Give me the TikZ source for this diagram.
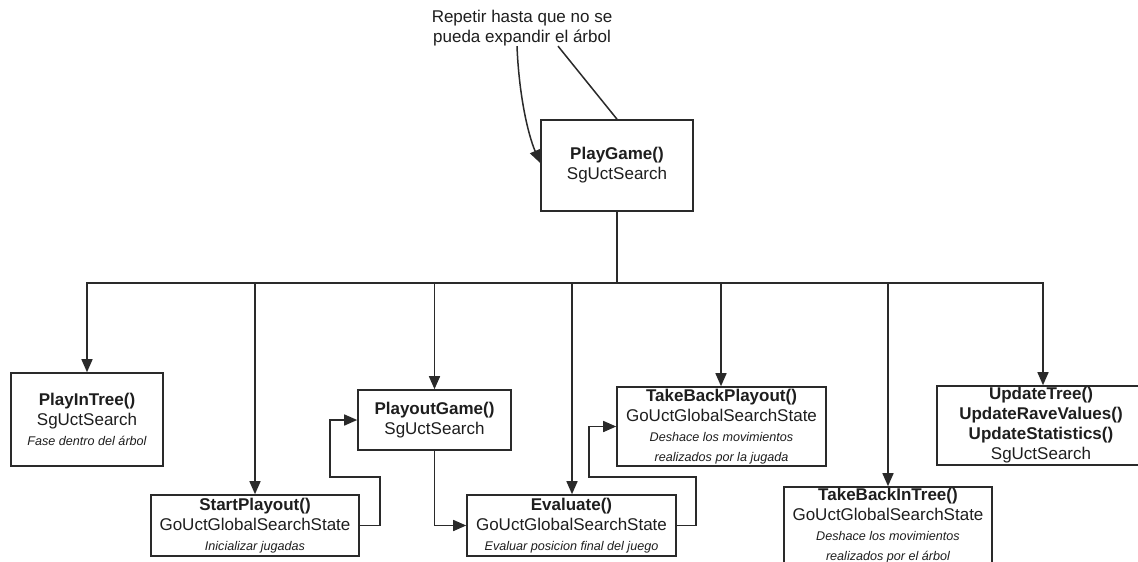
\documentclass[tikz,border=0pt]{standalone}
\usepackage{fontspec}
\setmainfont{Liberation Sans}
\usetikzlibrary{arrows.meta}

\definecolor{ink}{HTML}{1E1E1E}
\definecolor{wire}{HTML}{2A2A2A}

\newcommand{\fname}[1]{{\bfseries #1}}
\newcommand{\fnote}[1]{{\fontsize{12.6}{20}\selectfont\itshape #1}}

\begin{document}
\begin{tikzpicture}[x=1pt,y=-1pt,
  font=\fontsize{17}{20}\selectfont,
  box/.style={draw=wire, line width=1.6pt, rectangle, inner sep=0pt,
    align=center, text=ink, fill=white},
  link/.style={draw=wire, line width=1.5pt},
  arr/.style={link, -{Triangle[length=13pt,width=11pt]}},
  trunk/.style={draw=wire, line width=2.3pt}]

  \useasboundingbox[fill=white] (0,0) rectangle (1138,562);

  % main loop and its note
  \node[box, minimum width=152pt, minimum height=91pt] (play) at (617,165.5)
    {\fname{PlayGame()}\\SgUctSearch};
  \node[align=center, text=ink, inner sep=0pt] (note) at (522,28)
    {Repetir hasta que no se\\pueda expandir el árbol};

  % called functions
  \node[box, minimum width=152pt, minimum height=93pt] (intree) at (87,419.5)
    {\fname{PlayInTree()}\\SgUctSearch\\\fnote{Fase dentro del árbol}};
  \node[box, minimum width=208pt, minimum height=61pt] (start) at (255,525.5)
    {\fname{StartPlayout()}\\GoUctGlobalSearchState\\\fnote{Inicializar jugadas}};
  \node[box, minimum width=153pt, minimum height=60pt] (playout) at (434.5,420)
    {\fname{PlayoutGame()}\\SgUctSearch};
  \node[box, minimum width=209pt, minimum height=61pt] (eval) at (571.5,525.5)
    {\fname{Evaluate()}\\GoUctGlobalSearchState\\\fnote{Evaluar posicion final del juego}};
  \node[box, minimum width=209pt, minimum height=79pt] (tbplay) at (721.5,426.5)
    {\fname{TakeBackPlayout()}\\GoUctGlobalSearchState\\\fnote{Deshace los movimientos}\\\fnote{realizados por la jugada}};
  \node[box, minimum width=208pt, minimum height=77pt] (tbtree) at (888,525.5)
    {\fname{TakeBackInTree()}\\GoUctGlobalSearchState\\\fnote{Deshace los movimientos}\\\fnote{realizados por el árbol}};
  \node[box, minimum width=208pt, minimum height=79pt] (update) at (1041,425.5)
    {\fname{UpdateTree()}\\\fname{UpdateRaveValues()}\\\fname{UpdateStatistics()}\\SgUctSearch};

  % repetition note
  \draw[arr] ([xshift=-5pt]note.south)
    .. controls +(2,50) and +(-12,-28) .. ([yshift=2.5pt]play.west);
  \draw[link] ([xshift=36pt]note.south) -- (play.north);

  % trunk and distribution bus
  \coordinate (bus) at (617,283);
  \draw[trunk] (play.south) -- (bus);
  \draw[trunk] (87,283) -- (1043,283);
  \draw[arr] (bus) -| (intree.north);
  \draw[arr] (bus) -| (start.north);
  \draw[arr] (bus) -| (playout.north);
  \draw[arr] (bus) -| ([xshift=0.5pt]eval.north);
  \draw[arr] (bus) -| ([xshift=-0.5pt]tbplay.north);
  \draw[arr] (bus) -| (tbtree.north);
  \draw[arr] (bus) -| ([xshift=2pt]update.north);

  % playout sequence
  \draw[arr] (start.east) -- ++(20,0) -- ++(0,-48.5) -- ++(-50,0) |- (playout.west);
  \draw[arr] (playout.south) |- (eval.west);
  \draw[arr] (eval.east) -- ++(19,0) -- ++(0,-48.5) -- ++(-107,0) |- (tbplay.west);
\end{tikzpicture}
\end{document}
